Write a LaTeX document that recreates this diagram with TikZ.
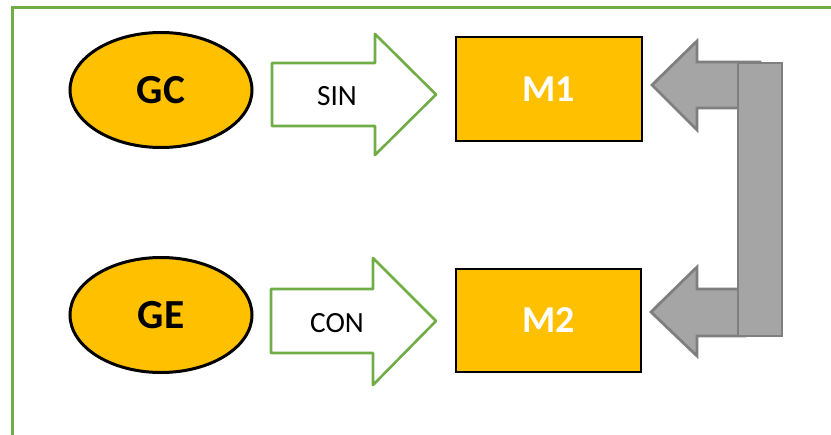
\documentclass[tikz,border=0pt]{standalone}
\usepackage{fontspec}
\setmainfont{Carlito}
\usetikzlibrary{shapes.geometric}
\definecolor{gold}{HTML}{FFC000}
\definecolor{frgreen}{HTML}{70AD47}
\definecolor{grfill}{HTML}{A5A5A5}
\definecolor{grline}{HTML}{7F7F7F}
\tikzset{
  oval/.style={ellipse, draw=black, line width=3pt*0.75, fill=gold, inner sep=0pt,
    minimum width=182*0.75pt, minimum height=115*0.75pt, font=\bfseries\fontsize{31}{33}\selectfont},
  mbox/.style={rectangle, draw=black, line width=2.8pt*0.75, fill=gold, inner sep=0pt,
    text=white, font=\bfseries\fontsize{28.5}{30}\selectfont},
  blockarrow/.style={draw=frgreen, line width=2.6pt*0.75, fill=white, line join=round},
  grayarrow/.style={draw=grline, line width=2.8pt*0.75, fill=grfill, line join=miter},
  lbl/.style={font=\fontsize{22}{24}\selectfont, inner sep=0pt},
  frame/.style={draw=frgreen, line width=3pt*0.75}
}
\begin{document}
\begin{tikzpicture}[x=0.75pt,y=-0.75pt]
\useasboundingbox (0,0) rectangle (831,435);
\draw[frame] (831,7.5) -- (12.5,7.5) -- (12.5,435);
% ellipses
\node[oval] (gc) at (161,90) {GC};
\node[oval] (ge) at (161,315) {GE};
% block arrows
\draw[blockarrow] (272,63) -- (375,63) -- (375,34) -- (436,94.5) -- (375,155) -- (375,126) -- (272,126) -- cycle;
\node[lbl] (sin) at (337,96) {SIN};
\draw[blockarrow] (271,289) -- (373,289) -- (373,258) -- (436,321) -- (373,385) -- (373,353) -- (271,353) -- cycle;
\node[lbl] (con) at (337,323) {CON};
% boxes
\node[mbox, minimum width=186*0.75pt, minimum height=104*0.75pt] (m1) at (549,89) {M1};
\node[mbox, minimum width=185*0.75pt, minimum height=103*0.75pt] (m2) at (548.5,320.5) {M2};
% gray feedback arrows
\draw[grayarrow] (652,85) -- (697,41) -- (697,62) -- (760,62) -- (760,108) -- (697,108) -- (697,130) -- cycle;
\draw[grayarrow] (651,312) -- (697,267) -- (697,289) -- (745,289) -- (745,336) -- (697,336) -- (697,356) -- cycle;
\draw[grayarrow] (738,63) rectangle (782,336);
\end{tikzpicture}
\end{document}
